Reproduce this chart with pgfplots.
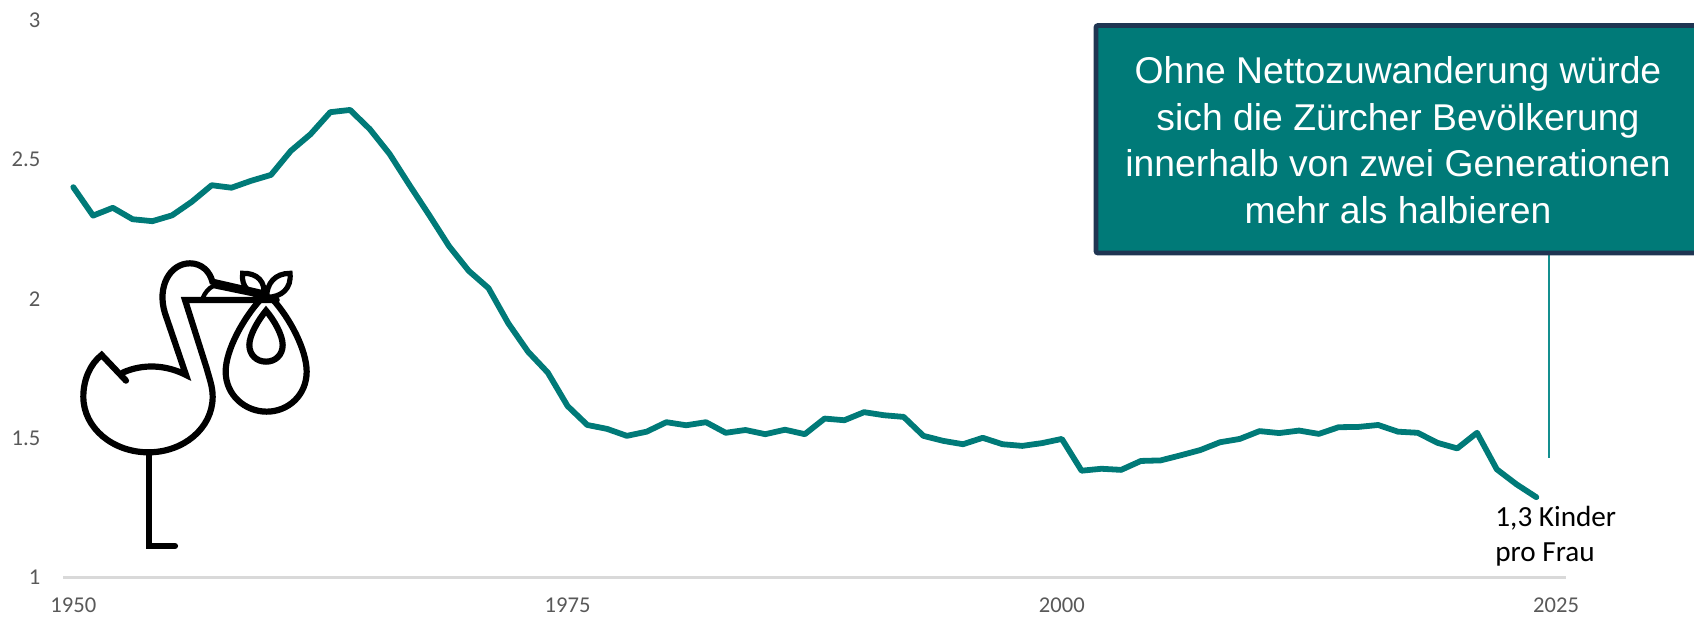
\documentclass[border=0pt]{standalone}
\usepackage{fontspec}
\setmainfont{Carlito}
\newfontfamily\boxfont{Liberation Sans}
\usepackage{pgfplots}
\pgfplotsset{compat=1.18}
\definecolor{teal1}{HTML}{007A78}
\definecolor{navy1}{HTML}{1F3552}
\definecolor{tick1}{HTML}{595959}
\definecolor{axis1}{HTML}{D9D9D9}
\definecolor{lead1}{HTML}{148F8F}

\pgfplotstableread{
year tfr
1950 2.400
1951 2.298
1952 2.326
1953 2.285
1954 2.278
1955 2.299
1956 2.348
1957 2.407
1958 2.398
1959 2.423
1960 2.444
1961 2.530
1962 2.590
1963 2.669
1964 2.677
1965 2.608
1966 2.519
1967 2.408
1968 2.300
1969 2.189
1970 2.100
1971 2.038
1972 1.912
1973 1.810
1974 1.735
1975 1.615
1976 1.547
1977 1.533
1978 1.508
1979 1.523
1980 1.557
1981 1.546
1982 1.557
1983 1.519
1984 1.529
1985 1.514
1986 1.530
1987 1.514
1988 1.570
1989 1.564
1990 1.593
1991 1.582
1992 1.576
1993 1.508
1994 1.490
1995 1.478
1996 1.501
1997 1.478
1998 1.472
1999 1.482
2000 1.497
2001 1.383
2002 1.390
2003 1.386
2004 1.418
2005 1.420
2006 1.438
2007 1.457
2008 1.485
2009 1.497
2010 1.525
2011 1.518
2012 1.527
2013 1.515
2014 1.539
2015 1.540
2016 1.547
2017 1.523
2018 1.519
2019 1.483
2020 1.463
2021 1.519
2022 1.388
2023 1.334
2024 1.288
}\tfrdata

\begin{document}
\begin{tikzpicture}
% page = reference pixels, 1 px = 0.5pt
\path[use as bounding box] (-31.7pt,-20.75pt) rectangle (815.3pt,288.75pt);
\begin{axis}[
    at={(0pt,0pt)}, anchor=south west,
    scale only axis,
    width=751.3pt, height=278.8pt,
    xmin=1949.5, xmax=2025.5,
    ymin=1, ymax=3,
    axis x line*=bottom,
    axis y line*=left,
    x axis line style={-, draw=axis1, line width=1.1pt},
    y axis line style={draw=none},
    major tick length=0pt,
    xtick={1950,1975,2000,2025},
    xticklabels={1950,1975,2000,2025},
    ytick={1,1.5,2,2.5,3},
    yticklabels={1,1.5,2,2.5,3},
    tick label style={font=\fontsize{11.3}{12}\selectfont, text=tick1},
    xticklabel style={yshift=-6.5pt},
    yticklabel style={xshift=-8pt},
    clip=false,
]
\addplot[teal1, line width=2.9pt, line cap=round, line join=round] table[x=year,y=tfr] {\tfrdata};
\addplot[lead1, line width=1pt] coordinates {(2024.62,1.43) (2024.62,2.16)};
\end{axis}

\begin{scope}[x=0.5pt, y=-0.5pt, shift={(-31.7pt,288.75pt)}]
% text box, runs off the right edge
\draw[navy1, line width=2.4pt, fill=teal1, rounded corners=1pt] (1096,25.5) rectangle (1720,253);
\node[text=white, align=center, font=\boxfont\fontsize{18.65}{23.3}\selectfont] at (1398,140)
    {Ohne Nettozuwanderung w\"urde\\sich die Z\"urcher Bev\"olkerung\\innerhalb von zwei Generationen\\mehr als halbieren};
\node[anchor=north west, inner sep=0pt, align=left, text=black, font=\fontsize{14.6}{17.6}\selectfont] at (1495,505.5)
    {1,3 Kinder\\pro Frau};
\end{scope}

% stork icon, in 3x zoom pixels of the reference
\begin{scope}[x=0.16667pt, y=-0.16667pt, shift={(-31.7pt+25pt,288.75pt-120pt)},
    line width=3.1pt, line cap=round, line join=miter, black]
\draw (228,422) -- (155,345) .. controls (120,372) and (100,420) .. (100,470)
    .. controls (100,565) and (190,637) .. (295,637)
    .. controls (400,637) and (488,565) .. (488,470)
    .. controls (488,440) and (478,415) .. (470,385) -- (405,180) -- (680,180);
\draw (218,398) .. controls (280,370) and (350,375) .. (408,405)
    -- (345,220) .. controls (320,140) and (360,70) .. (420,70)
    .. controls (455,70) and (480,95) .. (487,125) -- (640,160);
\draw[line width=2.2pt] (458,175) .. controls (465,158) and (475,145) .. (490,138) -- (625,166);
\draw (298,637) -- (298,918) -- (375,918);
% bag
\draw (632,178) .. controls (580,235) and (527,330) .. (527,395)
    .. controls (527,465) and (585,515) .. (650,515)
    .. controls (715,515) and (770,465) .. (770,395)
    .. controls (770,330) and (720,235) .. (668,178);
\draw (648,212) .. controls (625,240) and (598,285) .. (598,315)
    .. controls (598,345) and (620,365) .. (648,365)
    .. controls (676,365) and (698,345) .. (698,315)
    .. controls (698,285) and (672,240) .. (648,212) -- cycle;
% knot leaves
\draw[line width=2.6pt] (578,100) .. controls (620,98) and (650,125) .. (640,170)
    .. controls (600,165) and (572,140) .. (578,100) -- cycle;
\draw[line width=2.6pt] (720,100) .. controls (675,100) and (650,130) .. (650,172)
    .. controls (695,172) and (725,145) .. (720,100) -- cycle;
\end{scope}
\end{tikzpicture}
\end{document}
